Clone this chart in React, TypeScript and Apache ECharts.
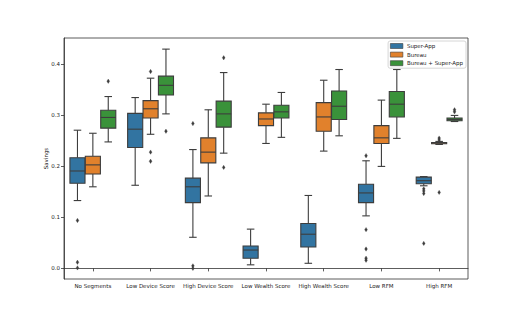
import React, { useEffect, useRef } from "react";
import * as echarts from "echarts";

const categories = [
  "No Segments",
  "Low Device Score",
  "High Device Score",
  "Low Wealth Score",
  "High Wealth Score",
  "Low RFM",
  "High RFM",
];

const hueNames = ["Super-App", "Bureau", "Bureau + Super-App"];
const hueColors = ["#3274a1", "#e1812c", "#3a923a"];

// [lower whisker, Q1, median, Q3, upper whisker]
const superAppBoxes = [
  [0.133, 0.167, 0.191, 0.217, 0.271],
  [0.163, 0.237, 0.273, 0.304, 0.335],
  [0.061, 0.129, 0.16, 0.177, 0.233],
  [0.007, 0.02, 0.036, 0.044, 0.077],
  [0.01, 0.042, 0.067, 0.088, 0.143],
  [0.103, 0.129, 0.148, 0.165, 0.211],
  [0.162, 0.166, 0.172, 0.179, 0.18],
];
const bureauBoxes = [
  [0.16, 0.185, 0.203, 0.22, 0.265],
  [0.263, 0.295, 0.313, 0.329, 0.373],
  [0.142, 0.207, 0.228, 0.256, 0.311],
  [0.245, 0.28, 0.293, 0.305, 0.322],
  [0.23, 0.269, 0.297, 0.325, 0.369],
  [0.2, 0.245, 0.256, 0.28, 0.33],
  [0.243, 0.2445, 0.246, 0.247, 0.249],
];
const bureauSuperBoxes = [
  [0.248, 0.275, 0.296, 0.31, 0.337],
  [0.303, 0.34, 0.359, 0.377, 0.43],
  [0.226, 0.277, 0.303, 0.328, 0.384],
  [0.257, 0.295, 0.307, 0.32, 0.345],
  [0.26, 0.292, 0.318, 0.348, 0.39],
  [0.255, 0.297, 0.322, 0.347, 0.39],
  [0.288, 0.2896, 0.292, 0.2949, 0.3],
];

const superAppOutliers = [
  [0.094, 0.012, 0.001],
  [],
  [0.284, 0.005, 0.0],
  [],
  [],
  [0.221, 0.076, 0.038, 0.02, 0.016],
  [0.156, 0.152, 0.147, 0.049],
];
const bureauOutliers = [
  [],
  [0.386, 0.228, 0.21],
  [],
  [],
  [],
  [],
  [0.2555, 0.252, 0.149],
];
const bureauSuperOutliers = [
  [0.367],
  [0.269],
  [0.413, 0.198],
  [],
  [],
  [],
  [0.311, 0.307],
];

const yTicks = [0, 0.1, 0.2, 0.3, 0.4];

const EDGE = "#3d3d3d";
const FONT = "DejaVu Sans";

function boxSeries(hue: number, boxes: number[][]) {
  return {
    type: "custom",
    name: hueNames[hue],
    itemStyle: { color: hueColors[hue], borderColor: EDGE, borderWidth: 0.8 },
    encode: { x: 0, y: [1, 2, 3, 4, 5] },
    data: boxes.map((b, i) => [i, ...b]),
    renderItem: (params: any, api: any) => {
      const idx = api.value(0);
      const lo = api.value(1);
      const q1 = api.value(2);
      const med = api.value(3);
      const q3 = api.value(4);
      const hi = api.value(5);
      const bw = api.size([1, 0])[0];
      const step = (bw * 0.8) / 3;
      const cx = api.coord([idx, 0])[0] + (hue - 1) * step;
      const w = step * 0.98;
      const yLo = api.coord([idx, lo])[1];
      const yQ1 = api.coord([idx, q1])[1];
      const yMed = api.coord([idx, med])[1];
      const yQ3 = api.coord([idx, q3])[1];
      const yHi = api.coord([idx, hi])[1];
      const ls = { stroke: EDGE, lineWidth: 1.1 };
      return {
        type: "group",
        children: [
          { type: "line", shape: { x1: cx, y1: yQ3, x2: cx, y2: yHi }, style: ls },
          { type: "line", shape: { x1: cx, y1: yQ1, x2: cx, y2: yLo }, style: ls },
          { type: "line", shape: { x1: cx - w / 4, y1: yHi, x2: cx + w / 4, y2: yHi }, style: ls },
          { type: "line", shape: { x1: cx - w / 4, y1: yLo, x2: cx + w / 4, y2: yLo }, style: ls },
          {
            type: "rect",
            shape: { x: cx - w / 2, y: yQ3, width: w, height: Math.max(yQ1 - yQ3, 0.5) },
            style: { fill: hueColors[hue], stroke: EDGE, lineWidth: 1.1 },
          },
          { type: "line", shape: { x1: cx - w / 2, y1: yMed, x2: cx + w / 2, y2: yMed }, style: ls },
        ],
      };
    },
  };
}

function outlierSeries(hue: number, outs: number[][]) {
  const data: number[][] = [];
  outs.forEach((list, i) => list.forEach((v) => data.push([i, v])));
  return {
    type: "custom",
    name: hueNames[hue] + " outliers",
    itemStyle: { color: EDGE },
    encode: { x: 0, y: 1 },
    data,
    renderItem: (params: any, api: any) => {
      const idx = api.value(0);
      const v = api.value(1);
      const bw = api.size([1, 0])[0];
      const step = (bw * 0.8) / 3;
      const p = api.coord([idx, v]);
      const x = p[0] + (hue - 1) * step;
      const y = p[1];
      return {
        type: "polygon",
        shape: {
          points: [
            [x, y - 2.2],
            [x + 1.4, y],
            [x, y + 2.2],
            [x - 1.4, y],
          ],
        },
        style: { fill: EDGE, stroke: EDGE, lineWidth: 0.3 },
      };
    },
  };
}

export default function App() {
  const ref = useRef<HTMLDivElement>(null);
  useEffect(() => {
    if (!ref.current) return;
    const chart = echarts.init(ref.current, undefined, { renderer: "svg" });
    chart.setOption({
      animation: false,
      backgroundColor: "#ffffff",
      textStyle: { fontFamily: FONT },
      grid: {
        left: 64,
        right: 52,
        top: 38,
        bottom: 41,
        show: true,
        borderColor: "#333333",
        borderWidth: 0.8,
        backgroundColor: "transparent",
      },
      legend: {
        data: hueNames,
        orient: "vertical",
        right: 54,
        top: 41,
        icon: "rect",
        itemWidth: 12.5,
        itemHeight: 5,
        itemGap: 2.6,
        padding: [2, 3, 2, 2],
        borderColor: "#cccccc",
        borderWidth: 0.8,
        borderRadius: 2,
        backgroundColor: "rgba(255,255,255,0.8)",
        itemStyle: { borderColor: EDGE, borderWidth: 0.6 },
        textStyle: { fontSize: 5.5, fontFamily: FONT, color: "#222", lineHeight: 5.7, padding: [0, 0, 0, -1] },
      },
      xAxis: {
        type: "category",
        data: categories,
        boundaryGap: true,
        axisLine: { show: true, lineStyle: { color: "#333333", width: 0.8 } },
        axisTick: { show: true, alignWithLabel: true, length: 3, lineStyle: { color: "#333333", width: 0.8 } },
        axisLabel: { fontSize: 5.5, fontFamily: FONT, color: "#222", margin: 4, interval: 0 },
        splitLine: { show: false },
      },
      yAxis: {
        type: "value",
        min: -0.0208,
        max: 0.4518,
        name: "Savings",
        nameLocation: "middle",
        nameGap: 15,
        nameMoveOverlap: false,
        nameTextStyle: { fontSize: 5.5, fontFamily: FONT, color: "#222" },
        axisLine: { show: true, lineStyle: { color: "#333333", width: 0.8 } },
        axisTick: { show: true, length: 3, customValues: yTicks, lineStyle: { color: "#333333", width: 0.8 } },
        axisLabel: {
          fontSize: 5.5,
          fontFamily: FONT,
          color: "#222",
          margin: 4,
          customValues: yTicks,
          formatter: (v: number) => v.toFixed(1),
        },
        splitLine: { show: false },
      },
      series: [
        boxSeries(0, superAppBoxes),
        boxSeries(1, bureauBoxes),
        boxSeries(2, bureauSuperBoxes),
        outlierSeries(0, superAppOutliers),
        outlierSeries(1, bureauOutliers),
        outlierSeries(2, bureauSuperOutliers),
      ],
    });
    return () => chart.dispose();
  }, []);
  return (
    <div
      ref={ref}
      style={{ position: "fixed", left: 0, top: 0, width: 520, height: 320, background: "#fff" }}
    />
  );
}
